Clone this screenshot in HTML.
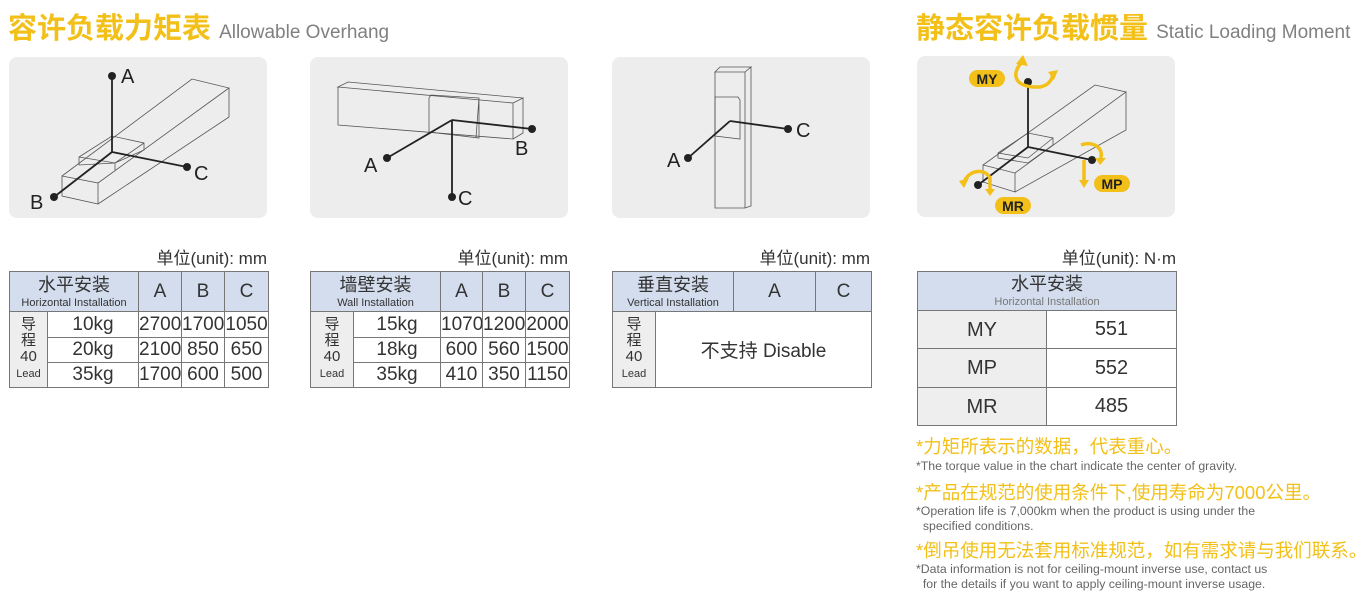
<!DOCTYPE html>
<html><head><meta charset="utf-8"><style>
body{margin:0;width:1370px;height:605px;background:#fff;position:relative;overflow:hidden;font-family:"Liberation Sans","Noto Sans CJK SC",sans-serif;}
.a{position:absolute;white-space:nowrap;}
.t1{color:#f2c018;font-size:29px;font-weight:bold;}
.t2{color:#808080;font-size:19px;}
.unit{font-size:17px;color:#333;text-align:right;}
table{position:absolute;border-collapse:collapse;table-layout:fixed;font-family:"Liberation Sans","Noto Sans CJK SC",sans-serif;color:#333;}
td{border:1px solid #777;text-align:center;padding:0;font-size:19px;overflow:hidden;}
.h{background:#d3ddee;}
.hc{font-size:18px;line-height:18px;}
.he{font-size:11px;line-height:12px;display:block;}
.ld{background:#eeeeee;font-size:15px;line-height:16px;}
.ld small{font-size:11px;}
.ny{color:#f2c018;font-size:18.5px;}
.ng{color:#666;font-size:12.3px;line-height:15px;}
</style></head><body>
<div class="a t1" style="left:8px;top:5px;">容许负载力矩表 <span class="t2" style="font-weight:normal">Allowable Overhang</span></div>
<div class="a t1" style="left:916px;top:5px;">静态容许负载惯量 <span class="t2" style="font-weight:normal">Static Loading Moment</span></div>

<svg class="a" style="left:0;top:0" width="1370" height="240" viewBox="0 0 1370 240">
<g fill="#ededed"><rect x="9" y="57" width="258" height="161" rx="8"/><rect x="310" y="57" width="258" height="161" rx="8"/><rect x="612" y="57" width="258" height="161" rx="8"/><rect x="917" y="56" width="258" height="161" rx="8"/></g>
<g fill="none" stroke="#555" stroke-width="0.8">
<path d="M62,176 L98,183 L98,204 L62,196 Z M62,176 L192,79 L229,88 L98,183 M229,88 L229,117 L98,204"/>
<path d="M79,157 L112,136 L144,143 L144,150 L115,163 L79,165 Z M79,157 L115,163 L144,143 M115,163 L115,170"/>
<path d="M338,87 L348,82 L523,98 L513,103 Z M338,87 L513,103 L513,139 L338,125 Z M513,103 L523,98 L523,133 L513,139"/>
<path d="M429,98 L431,95 L479,98 L479,138 L429,132 Z M479,98 L476,138"/>
<path d="M715,72 L720,67 L751,67 L745,72 Z M715,72 L745,72 L745,208 L715,208 Z M745,72 L751,67 L751,206 L745,208"/>
<path d="M715,97 L738,97 L740,100 L740,139 L715,136 Z"/>
<path d="M983,165 L1015,173 L1015,192 L983,182 Z M983,165 L1095,85 L1126,92 L1015,173 M1126,92 L1126,130 L1015,192"/>
<path d="M998,153 L1028,133 L1053,138 L1053,145 L1028,163 L998,158 Z M998,153 L1028,158 L1053,138"/>
</g>
<g stroke="#222" stroke-width="1.8" fill="none">
<path d="M112,76 L112,152 L54,197 M112,152 L187,167"/>
<path d="M452,120 L387,158 M452,120 L532,129 M452,120 L452,197"/>
<path d="M730,121 L688,158 M730,121 L788,129"/>
<path d="M1028,82 L1028,147 L978,185 M1028,147 L1092,160"/>
</g>
<g fill="#222"><circle cx="112" cy="76" r="4"/><circle cx="54" cy="197" r="4"/><circle cx="187" cy="167" r="4"/>
<circle cx="387" cy="158" r="4"/><circle cx="532" cy="129" r="4"/><circle cx="452" cy="197" r="4"/>
<circle cx="688" cy="158" r="4"/><circle cx="788" cy="129" r="4"/>
<circle cx="1028" cy="82" r="4"/><circle cx="978" cy="185" r="4"/><circle cx="1092" cy="160" r="4"/></g>
<g font-family="Liberation Sans,sans-serif" font-size="20" fill="#222">
<text x="121" y="83">A</text><text x="30" y="209">B</text><text x="194" y="180">C</text>
<text x="364" y="172">A</text><text x="515" y="155">B</text><text x="458" y="205">C</text>
<text x="667" y="167">A</text><text x="796" y="137">C</text></g>
<g stroke="#f2c018" stroke-width="3.5" fill="none">
<path d="M1022,62 C1010,75 1015,88 1040,87 C1050,85 1053,78 1053,72"/>
<path d="M1081,145 C1095,140 1105,150 1100,160 M1084,160 L1084,182"/>
<path d="M965,180 C970,170 985,168 990,178 L990,190"/>
</g>
<g fill="#f2c018"><path d="M1016,64 L1023,55 L1028,66 Z"/><path d="M1048,72 L1058,70 L1054,80 Z"/><path d="M1079,180 L1089,180 L1084,188 Z"/><path d="M1095,158 L1106,158 L1100,165 Z"/><path d="M959,181 L969,178 L964,188 Z"/><path d="M985,189 L995,189 L990,196 Z"/>
<rect x="969" y="70" width="36" height="17" rx="8.5"/><rect x="1094" y="175" width="36" height="17" rx="8.5"/><rect x="995" y="197" width="36" height="17" rx="8.5"/></g>
<g font-family="Liberation Sans,sans-serif" font-size="14" font-weight="bold" fill="#222" text-anchor="middle">
<text x="987" y="84">MY</text><text x="1112" y="189">MP</text><text x="1013" y="211">MR</text></g>
</svg>

<div class="a unit" style="left:100px;width:167px;top:244px;">单位(unit): mm</div>
<div class="a unit" style="left:400px;width:168px;top:244px;">单位(unit): mm</div>
<div class="a unit" style="left:700px;width:170px;top:244px;">单位(unit): mm</div>
<div class="a unit" style="left:1000px;width:176px;top:244px;">单位(unit): N·m</div>

<table style="left:9px;top:271px;width:259px;">
<colgroup><col style="width:38px"><col style="width:91px"><col style="width:43px"><col style="width:43px"><col style="width:44px"></colgroup>
<tr style="height:40px"><td class="h" colspan="2"><span class="hc">水平安装</span><span class="he">Horizontal Installation</span></td><td class="h">A</td><td class="h">B</td><td class="h">C</td></tr>
<tr style="height:26px"><td class="ld" rowspan="3">导<br>程<br>40<br><small>Lead</small></td><td>10kg</td><td>2700</td><td>1700</td><td>1050</td></tr>
<tr style="height:25px"><td>20kg</td><td>2100</td><td>850</td><td>650</td></tr>
<tr style="height:25px"><td>35kg</td><td>1700</td><td>600</td><td>500</td></tr>
</table>
<table style="left:310px;top:271px;width:259px;">
<colgroup><col style="width:43px"><col style="width:87px"><col style="width:42px"><col style="width:43px"><col style="width:44px"></colgroup>
<tr style="height:40px"><td class="h" colspan="2"><span class="hc">墙壁安装</span><span class="he">Wall Installation</span></td><td class="h">A</td><td class="h">B</td><td class="h">C</td></tr>
<tr style="height:26px"><td class="ld" rowspan="3">导<br>程<br>40<br><small>Lead</small></td><td>15kg</td><td>1070</td><td>1200</td><td>2000</td></tr>
<tr style="height:25px"><td>18kg</td><td>600</td><td>560</td><td>1500</td></tr>
<tr style="height:25px"><td>35kg</td><td>410</td><td>350</td><td>1150</td></tr>
</table>
<table style="left:612px;top:271px;width:259px;">
<colgroup><col style="width:43px"><col style="width:78px"><col style="width:82px"><col style="width:56px"></colgroup>
<tr style="height:40px"><td class="h" colspan="2"><span class="hc">垂直安装</span><span class="he">Vertical Installation</span></td><td class="h">A</td><td class="h">C</td></tr>
<tr style="height:76px"><td class="ld">导<br>程<br>40<br><small>Lead</small></td><td colspan="3">不支持 Disable</td></tr>
</table>
<table style="left:917px;top:271px;width:259px;">
<colgroup><col style="width:129px"><col style="width:130px"></colgroup>
<tr style="height:39px"><td class="h" colspan="2"><span class="hc">水平安装</span><span class="he" style="color:#777">Horizontal Installation</span></td></tr>
<tr style="height:38px"><td class="ld" style="font-size:20px">MY</td><td style="font-size:20px">551</td></tr>
<tr style="height:39px"><td class="ld" style="font-size:20px">MP</td><td style="font-size:20px">552</td></tr>
<tr style="height:38px"><td class="ld" style="font-size:20px">MR</td><td style="font-size:20px">485</td></tr>
</table>

<div class="a ny" style="left:916px;top:433px;">*力矩所表示的数据，代表重心。</div>
<div class="a ng" style="left:916px;top:459px;">*The torque value in the chart indicate the center of gravity.</div>
<div class="a ny" style="left:916px;top:479px;">*产品在规范的使用条件下,使用寿命为7000公里。</div>
<div class="a ng" style="left:916px;top:504px;">*Operation life is 7,000km when the product is using under the<br>&nbsp; specified conditions.</div>
<div class="a ny" style="left:916px;top:537px;">*倒吊使用无法套用标准规范，如有需求请与我们联系。</div>
<div class="a ng" style="left:916px;top:562px;">*Data information is not for ceiling-mount inverse use, contact us<br>&nbsp; for the details if you want to apply ceiling-mount inverse usage.</div>
</body></html>
